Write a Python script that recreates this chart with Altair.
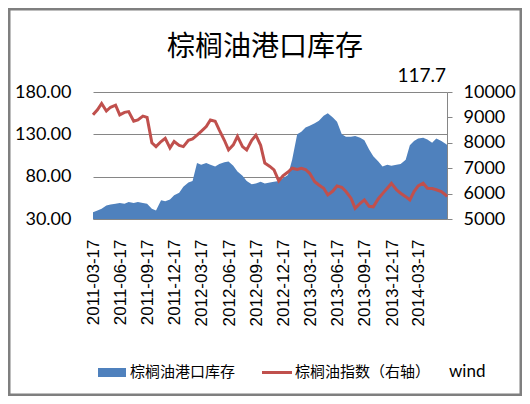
import altair as alt
import pandas as pd

# ---- data ----
first_date = "2011-03-17"
last_date = "2014-06-20"
mid_dates = [d.strftime("%Y-%m-%d") for d in pd.date_range("2011-04-01", "2014-06-15", freq="SMS")]
dates = [first_date] + mid_dates + [last_date]

stock = [38, 40, 42, 46, 47, 48, 49, 48, 50, 49,
         50, 49, 48, 42, 40, 52, 51, 53, 58, 61,
         68, 73, 75, 96, 94, 96, 94, 92, 95, 97,
         98, 93, 86, 81, 75, 71, 72, 74, 72, 73,
         74, 75, 78, 82, 100, 130, 133, 138, 140, 143,
         146, 152, 155, 150, 145, 130, 127, 127, 128, 126,
         123, 112, 104, 98, 92, 94, 93, 94, 95, 100,
         117, 122, 125, 126, 124, 120, 125, 122, 119, 117.7]

palm_index = [9100, 9300, 9550, 9250, 9400, 9480, 9100, 9200, 9230, 8850,
              8900, 9050, 9000, 8000, 7850, 8050, 8180, 7800, 8050, 7900,
              7850, 8100, 8150, 8300, 8450, 8640, 8900, 8850, 8500, 8100,
              7720, 7920, 8250, 7850, 7720, 8100, 8300, 7900, 7200, 7070,
              6930, 6500, 6700, 6850, 7000, 6950, 7000, 6950, 6800, 6470,
              6340, 6210, 5950, 6100, 6300, 6250, 6080, 5820, 5420, 5620,
              5750, 5500, 5480, 5800, 6000, 6210, 6400, 6150, 6014, 5880,
              5750, 6078, 6300, 6409, 6211, 6200, 6150, 6078, 5950, 5880]

tick_dates = [(2011, 3), (2011, 6), (2011, 9), (2011, 12), (2012, 3), (2012, 6),
              (2012, 9), (2012, 12), (2013, 3), (2013, 6), (2013, 9), (2013, 12), (2014, 3)]
left_ticks = [30, 80, 130, 180]
right_ticks = [5000, 6000, 7000, 8000, 9000, 10000]

title_text = "棕榈油港口库存"
legend_stock = "棕榈油港口库存"
legend_index = "棕榈油指数（右轴）"
source_text = "wind"

df = pd.DataFrame({"date": pd.to_datetime(dates), "stock": stock, "idx": palm_index})

W, H = 354, 127
BLUE = "#4F81BD"
RED = "#C0504D"
GRID = "#868686"

x_enc = alt.X(
    "date:T",
    scale=alt.Scale(domain=[alt.DateTime(year=2011, month=3, date=17),
                            alt.DateTime(year=2014, month=6, date=20)]),
    axis=alt.Axis(
        values=[alt.DateTime(year=y, month=m, date=17) for y, m in tick_dates],
        format="%Y-%m-%d", labelAngle=270, labelAlign="right", labelBaseline="middle",
        labelFont="Liberation Sans", labelFontSize=17, labelColor="#000000",
        ticks=False, tickSize=0, labelPadding=20, domainColor=GRID,
        grid=False, title=None, labelOverlap=False, labelFlush=False,
        labelSeparation=0,
    ),
)

area = alt.Chart(df).mark_area(color=BLUE, opacity=1).encode(
    x=x_enc,
    y=alt.Y("stock:Q", scale=alt.Scale(domain=[30, 180], nice=False, zero=False),
            axis=alt.Axis(values=left_ticks, format=".2f", title=None, domain=False,
                          ticks=False, labelPadding=22, labelFont="Lato",
                          labelFontSize=18, labelColor="#000000",
                          grid=True, gridColor=GRID, gridWidth=1)),
    y2=alt.datum(30),
)

line = alt.Chart(df).mark_line(color=RED, strokeWidth=3).encode(
    x=x_enc,
    y=alt.Y("idx:Q", scale=alt.Scale(domain=[5000, 10000], nice=False, zero=False),
            axis=alt.Axis(orient="right", values=right_ticks, format="d", title=None,
                          domain=True, domainColor=GRID, ticks=True, tickSize=5,
                          tickColor=GRID, labelPadding=11, labelFont="Lato",
                          labelFontSize=18, labelColor="#000000", grid=False)),
)

def txt(s, x, y, size, font, align="left", baseline="middle"):
    return alt.Chart(pd.DataFrame({"t": [s]})).mark_text(
        align=align, baseline=baseline, fontSize=size, font=font, color="#000000"
    ).encode(text="t:N", x=alt.value(x), y=alt.value(y))

one = pd.DataFrame({"k": [0]})

border = alt.Chart(one).mark_rect(fillOpacity=0, stroke="#7F7F7F", strokeWidth=3).encode(
    x=alt.value(-84), x2=alt.value(428), y=alt.value(-83), y2=alt.value(303))

leg_rect = alt.Chart(one).mark_rect(color=BLUE).encode(
    x=alt.value(5), x2=alt.value(33), y=alt.value(276), y2=alt.value(285))
leg_line = alt.Chart(one).mark_rule(color=RED, strokeWidth=3).encode(
    x=alt.value(169), x2=alt.value(199), y=alt.value(280.5))

chart = alt.layer(
    area, line,
    txt(title_text, 172, -36, 28, "Noto Sans CJK SC", align="center", baseline="alphabetic"),
    txt(f"{stock[-1]}", 353, -10, 19, "Lato", align="right", baseline="alphabetic"),
    leg_rect, txt(legend_stock, 37, 280, 15, "Noto Sans CJK SC"),
    leg_line, txt(legend_index, 202, 280, 15, "Noto Sans CJK SC"),
    txt(source_text, 356, 280, 17, "Lato"),
    border,
).resolve_scale(y="independent").properties(
    width=W, height=H,
    autosize=alt.AutoSizeParams(type="none"),
    padding={"left": 85, "top": 84, "right": 75, "bottom": 177},
).configure_view(stroke=None)

chart.save("out.html", embed_options={"renderer": "svg", "actions": False})
